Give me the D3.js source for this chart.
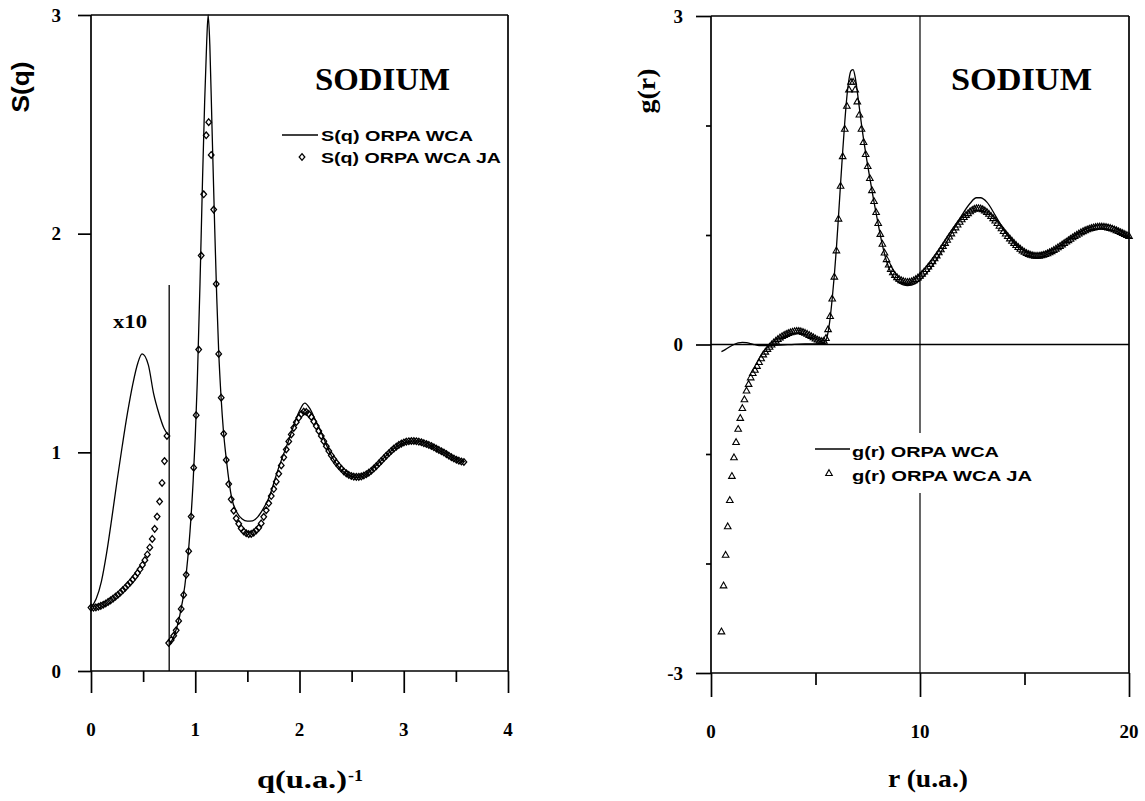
<!DOCTYPE html>
<html><head><meta charset="utf-8">
<script src="https://cdn.jsdelivr.net/npm/d3@7"></script>
<style>body{margin:0;background:#fff}svg{display:block}</style>
</head><body><svg id="c" width="1145" height="801"></svg>
<script>
// ---------------- LEFT PANEL DATA : S(q) ----------------
// region q < 0.75 is displayed x10 (values below are as displayed)
const qTicks = [0, 1, 2, 3, 4];
const qMinorTicks = [0.5, 1.5, 2.5, 3.5];
const sTicks = [0, 1, 2, 3];
const qSeparator = 0.75, sSeparatorTop = 1.765;

const qWCA1 = [0, 0.05, 0.1, 0.15, 0.2, 0.25, 0.3, 0.35, 0.4, 0.45, 0.49, 0.55, 0.6, 0.65, 0.7, 0.74];
const sWCA1 = [0.29, 0.33, 0.41, 0.54, 0.70, 0.87, 1.03, 1.18, 1.31, 1.41, 1.45, 1.40, 1.27, 1.18, 1.11, 1.08];

const qWCA2 = [0.752,0.8,0.85,0.9,0.95,0.98,1.0,1.02,1.046,1.07,1.09,1.11,1.124,1.14,1.16,1.187,1.206,1.225,1.248,1.27,1.3,1.35,1.4,1.45,1.5,1.55,1.6,1.65,1.7,1.8,1.9,1.95,2.0,2.05,2.1,2.15,2.2,2.3,2.4,2.5,2.55,2.6,2.7,2.8,2.9,3.0,3.1,3.2,3.3,3.4,3.5,3.58];
const sWCA2 = [0.12,0.165,0.25,0.39,0.64,0.87,1.07,1.33,1.78,2.25,2.6,2.88,3.0,2.86,2.5,2.02,1.71,1.46,1.25,1.10,0.96,0.79,0.725,0.695,0.685,0.687,0.705,0.74,0.785,0.93,1.06,1.13,1.19,1.225,1.20,1.15,1.10,0.99,0.92,0.89,0.886,0.89,0.925,0.97,1.015,1.043,1.052,1.044,1.02,0.995,0.968,0.956];

// JA (diamonds): sampled on a regular q grid
const qJA1Start = 0, qJA1Step = 0.0235;
const sJA1 = [0.290,0.290,0.291,0.294,0.298,0.303,0.309,0.316,0.323,0.331,0.340,0.349,0.359,0.370,0.381,0.393,0.405,0.418,0.432,0.448,0.465,0.485,0.507,0.533,0.565,0.604,0.650,0.706,0.775,0.860,0.960,1.075];
const qJA2Start = 0.745, qJA2Step = 0.024;
const sJA2 = [0.128,0.142,0.161,0.186,0.229,0.284,0.348,0.440,0.548,0.706,0.93,1.17,1.47,1.90,2.18,2.45,2.51,2.36,2.11,1.77,1.45,1.25,1.085,0.965,0.855,0.785,0.733,0.698,0.673,0.652,0.638,0.630,0.626,0.627,0.633,0.643,0.655,0.675,0.705,0.735,0.767,0.800,0.832,0.866,0.902,0.940,0.977,1.013,1.05,1.082,1.112,1.138,1.158,1.175,1.186,1.185,1.176,1.162,1.141,1.120,1.098,1.075,1.051,1.028,1.006,0.986,0.968,0.952,0.938,0.925,0.913,0.904,0.897,0.892,0.889,0.888,0.888,0.890,0.894,0.900,0.907,0.916,0.926,0.937,0.949,0.961,0.973,0.985,0.996,1.007,1.017,1.026,1.034,1.040,1.045,1.049,1.051,1.052,1.052,1.051,1.049,1.046,1.042,1.038,1.034,1.029,1.023,1.017,1.011,1.005,0.999,0.992,0.985,0.978,0.972,0.966,0.962,0.958,0.956];

// ---------------- RIGHT PANEL DATA : g(r) ----------------
const rTicks = [0, 10, 20];
const rMinorTicks = [5, 15];
const gTicks = [-3, 0, 3];
const gMinorTicks = [-2, -1, 1, 2];

const rWCA = [0.5,0.7,0.9,1.1,1.3,1.5,1.7,1.9,2.1,2.3,2.6,3.0,3.5,4.0,4.5,5.0,5.3,5.5,5.6,5.7,5.8,5.9,6.0,6.1,6.2,6.3,6.4,6.5,6.6,6.7,6.8,6.9,7.0,7.1,7.2,7.4,7.6,7.8,8.0,8.2,8.4,8.6,8.8,9.0,9.2,9.4,9.6,9.8,10.0,10.4,10.8,11.2,11.6,12.0,12.4,12.7,12.9,13.2,13.6,14.0,14.4,14.8,15.2,15.6,16.0,16.5,17.0,17.5,18.0,18.5,18.8,19.2,19.6,20.0];
const gWCA = [-0.065,-0.045,-0.02,0.0,0.014,0.02,0.017,0.008,-0.002,-0.009,-0.011,-0.008,-0.003,0.002,0.005,0.006,0.01,0.04,0.11,0.24,0.42,0.63,0.88,1.17,1.47,1.76,2.03,2.26,2.42,2.50,2.51,2.44,2.31,2.16,2.01,1.75,1.52,1.30,1.10,0.91,0.76,0.66,0.60,0.565,0.545,0.538,0.542,0.56,0.59,0.67,0.78,0.91,1.05,1.18,1.29,1.34,1.34,1.30,1.18,1.05,0.95,0.88,0.84,0.83,0.845,0.88,0.94,1.01,1.06,1.09,1.095,1.08,1.04,0.98];

// JA (triangles): sampled on a regular r grid
const rJAStart = 0.5, rJAStep = 0.1;
const gJA = [-2.62,-2.20,-1.92,-1.66,-1.42,-1.20,-1.03,-0.89,-0.77,-0.67,-0.58,-0.50,-0.42,-0.36,-0.30,-0.26,-0.23,-0.195,-0.16,-0.125,-0.09,-0.065,-0.04,-0.02,0.0,0.02,0.035,0.05,0.065,0.077,0.088,0.097,0.105,0.112,0.118,0.122,0.124,0.124,0.121,0.115,0.107,0.098,0.088,0.077,0.066,0.055,0.045,0.037,0.032,0.035,0.06,0.14,0.26,0.42,0.62,0.86,1.15,1.45,1.72,1.97,2.18,2.33,2.40,2.40,2.33,2.22,2.10,1.97,1.85,1.74,1.63,1.52,1.41,1.31,1.21,1.11,1.01,0.92,0.84,0.78,0.73,0.69,0.66,0.635,0.615,0.60,0.588,0.58,0.575,0.572,0.573,0.578,0.587,0.598,0.612,0.628,0.647,0.667,0.689,0.712,0.736,0.761,0.787,0.814,0.842,0.870,0.899,0.928,0.957,0.986,1.015,1.043,1.070,1.096,1.121,1.144,1.165,1.184,1.20,1.217,1.23,1.24,1.245,1.246,1.243,1.236,1.225,1.211,1.194,1.175,1.154,1.132,1.109,1.085,1.061,1.037,1.014,0.991,0.969,0.948,0.928,0.909,0.891,0.875,0.860,0.847,0.836,0.827,0.820,0.815,0.812,0.811,0.812,0.815,0.820,0.826,0.834,0.843,0.853,0.864,0.876,0.888,0.901,0.914,0.927,0.940,0.953,0.966,0.979,0.991,1.003,1.014,1.025,1.035,1.044,1.052,1.059,1.065,1.070,1.074,1.077,1.078,1.078,1.077,1.074,1.070,1.065,1.059,1.052,1.044,1.036,1.027,1.018,1.009,1.000,0.992];

const titleText = "SODIUM";
const legendS = ["S(q) ORPA WCA", "S(q) ORPA WCA JA"];
const legendG = ["g(r) ORPA WCA", "g(r) ORPA WCA JA"];

// ---------------- DRAWING ----------------
const svg = d3.select('#c');
const SERIF = '"Liberation Serif","Times New Roman",serif';
const SANS = '"Liberation Sans",Arial,Helvetica,sans-serif';
const AX = 1.7;

function hline(g, x1, x2, y, w){ g.append('line').attr('x1',x1).attr('x2',x2).attr('y1',y).attr('y2',y).attr('stroke','#000').attr('stroke-width',w||AX); }
function vline(g, x, y1, y2, w){ g.append('line').attr('x1',x).attr('x2',x).attr('y1',y1).attr('y2',y2).attr('stroke','#000').attr('stroke-width',w||AX); }
function ticks(g, axis, tx, ty){
  const a = g.append('g').attr('transform',`translate(${tx},${ty})`).call(axis);
  a.select('.domain').remove();
  a.selectAll('line').attr('stroke','#000').attr('stroke-width',AX);
  a.selectAll('text').remove();
}
function txt(g, x, y, s, o){
  const t = g.append('text').attr('x',x).attr('y',y).text(s)
    .attr('font-family',o.font).attr('font-weight','bold').attr('font-size',o.size)
    .attr('text-anchor',o.anchor||'start').attr('fill','#000');
  if(o.len){ t.attr('textLength',o.len).attr('lengthAdjust','spacingAndGlyphs'); }
  if(o.baseline) t.attr('dominant-baseline',o.baseline);
  if(o.rotate) t.attr('transform',`rotate(-90,${x},${y})`);
  return t;
}
const diamond = 'M0,-3.3L2.8,0L0,3.3L-2.8,0Z';
const triangle = 'M0,-3.3L3.3,2.5L-3.3,2.5Z';

// ===== Left panel =====
const L = svg.append('g');
const xL = d3.scaleLinear().domain([0,4]).range([91,508]);
const yL = d3.scaleLinear().domain([0,3]).range([671,15]);

ticks(L, d3.axisBottom(xL).tickValues(qTicks).tickSize(22).tickFormat(''), 0, yL(0));
ticks(L, d3.axisBottom(xL).tickValues(qMinorTicks).tickSize(11).tickFormat(''), 0, yL(0));
ticks(L, d3.axisLeft(yL).tickValues(sTicks).tickSize(13).tickFormat(''), xL(0), 0);
hline(L, xL(0), xL(4), yL(0));
hline(L, xL(0), xL(4), yL(3));
vline(L, xL(0), yL(3), yL(0));
vline(L, xL(4), yL(3), yL(0));
vline(L, xL(qSeparator), yL(0), yL(sSeparatorTop), 1.3);

sTicks.forEach(v => txt(L, 61, yL(v), String(v), {font:SERIF, size:19, anchor:'end', baseline:'central'}));
qTicks.forEach(v => txt(L, xL(v), 736, String(v), {font:SERIF, size:19, anchor:'middle'}));

const lineL = d3.line().x(d=>xL(d[0])).y(d=>yL(d[1])).curve(d3.curveMonotoneX);
L.append('path').attr('d', lineL(d3.zip(qWCA1, sWCA1))).attr('fill','none').attr('stroke','#000').attr('stroke-width',1.3);
L.append('path').attr('d', lineL(d3.zip(qWCA2, sWCA2))).attr('fill','none').attr('stroke','#000').attr('stroke-width',1.3);

const ja1 = sJA1.map((s,i)=>[qJA1Start + i*qJA1Step, s]);
const ja2 = sJA2.map((s,i)=>[qJA2Start + i*qJA2Step, s]);
L.append('g').selectAll('path').data(ja1.concat(ja2)).join('path')
  .attr('d', diamond).attr('transform', d=>`translate(${xL(d[0])},${yL(d[1])})`)
  .attr('fill','none').attr('stroke','#000').attr('stroke-width',1.3);

txt(L, 113, 328, 'x10', {font:SERIF, size:19, len:34});
txt(L, 315, 90, titleText, {font:SERIF, size:32, len:135});
hline(L, 282, 318, 135, 1.3);
txt(L, 321, 141, legendS[0], {font:SANS, size:14, len:152});
L.append('path').attr('d',diamond).attr('transform','translate(302,157)').attr('fill','none').attr('stroke','#000').attr('stroke-width',1.3);
txt(L, 321, 163, legendS[1], {font:SANS, size:14, len:180});

txt(L, 29, 87, 'S(q)', {font:SANS, size:23, anchor:'middle', len:51, rotate:true});
txt(L, 257, 788, 'q(u.a.)', {font:SERIF, size:25, len:90});
txt(L, 348, 781, '-1', {font:SERIF, size:17, len:15});

// ===== Right panel =====
const R = svg.append('g');
const xR = d3.scaleLinear().domain([0,20]).range([711,1129]);
const yR = d3.scaleLinear().domain([-3,3]).range([673,16]);

ticks(R, d3.axisBottom(xR).tickValues(rTicks).tickSize(24).tickFormat(''), 0, yR(-3));
ticks(R, d3.axisBottom(xR).tickValues(rMinorTicks).tickSize(12).tickFormat(''), 0, yR(-3));
ticks(R, d3.axisLeft(yR).tickValues(gTicks).tickSize(15).tickFormat(''), xR(0), 0);
ticks(R, d3.axisLeft(yR).tickValues(gMinorTicks).tickSize(5).tickFormat(''), xR(0), 0);
hline(R, xR(0), xR(20), yR(-3));
hline(R, xR(0), xR(20), yR(3));
hline(R, xR(0), xR(20), yR(0), 1.5);
vline(R, xR(0), yR(3), yR(-3));
vline(R, xR(20), yR(3), yR(-3));
vline(R, xR(10), yR(3), yR(-3), 1.2);

gTicks.forEach(v => txt(R, 683, yR(v), String(v), {font:SERIF, size:19, anchor:'end', baseline:'central'}));
rTicks.forEach(v => txt(R, xR(v), 738, String(v), {font:SERIF, size:19, anchor:'middle'}));

const lineR = d3.line().x(d=>xR(d[0])).y(d=>yR(d[1])).curve(d3.curveMonotoneX);
R.append('path').attr('d', lineR(d3.zip(rWCA, gWCA))).attr('fill','none').attr('stroke','#000').attr('stroke-width',1.3);
const jaR = gJA.map((g,i)=>[rJAStart + i*rJAStep, g]);
R.append('g').selectAll('path').data(jaR).join('path')
  .attr('d', triangle).attr('transform', d=>`translate(${xR(d[0])},${yR(d[1])})`)
  .attr('fill','none').attr('stroke','#000').attr('stroke-width',1.1);

R.append('rect').attr('x',810).attr('y',433).attr('width',230).attr('height',60).attr('fill','#fff');
hline(R, 815, 850, 449, 1.3);
txt(R, 852, 457, legendG[0], {font:SANS, size:15, len:147});
R.append('path').attr('d',triangle).attr('transform','translate(829,473)').attr('fill','none').attr('stroke','#000').attr('stroke-width',1.1);
txt(R, 852, 481, legendG[1], {font:SANS, size:15, len:180});

txt(R, 951, 90, titleText, {font:SERIF, size:32, len:141});
txt(R, 655, 91, 'g(r)', {font:SERIF, size:26, anchor:'middle', len:45, rotate:true});
txt(R, 888, 787, 'r (u.a.)', {font:SERIF, size:25, len:80});
</script></body></html>
